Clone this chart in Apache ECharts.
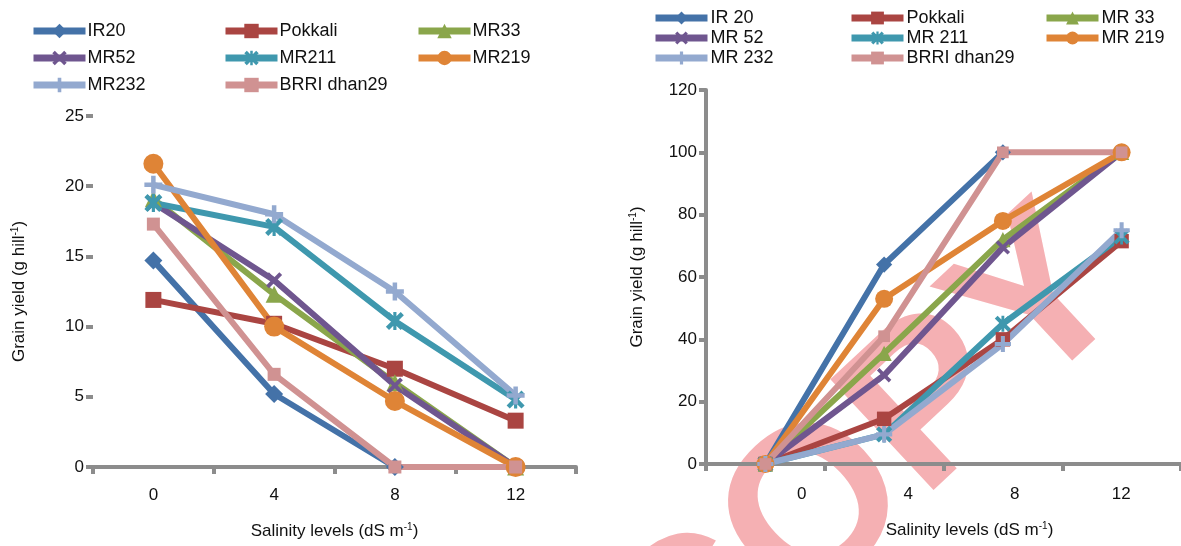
<!DOCTYPE html>
<html>
<head>
    <meta charset="UTF-8">
    <script src="https://cdn.jsdelivr.net/npm/echarts@6/dist/echarts.min.js"></script>
    <style>
        html, body { margin: 0; padding: 0; background: #fff; }
        #main { width: 1181px; height: 546px; }
    </style>
</head>
<body>
<div id="main"></div>
<script>
    // salinity levels (dS m-1)
    var levels = ['0', '4', '8', '12'];
    var labelValues = [0, 4, 8, 12];

    var leftNames = ['IR20', 'Pokkali', 'MR33', 'MR52', 'MR211', 'MR219', 'MR232', 'BRRI dhan29'];
    var rightNames = ['IR 20', 'Pokkali', 'MR 33', 'MR 52', 'MR 211', 'MR 219', 'MR 232', 'BRRI dhan29'];

    // left panel: grain yield (g hill-1)
    var ir20Yield = [14.7, 5.2, 0, null];
    var pokkaliYield = [11.9, 10.2, 7.0, 3.3];
    var mr33Yield = [19.1, 12.3, 6.0, 0];
    var mr52Yield = [18.8, 13.3, 5.8, 0];
    var mr211Yield = [18.8, 17.1, 10.4, 4.8];
    var mr219Yield = [21.6, 10.0, 4.7, 0];
    var mr232Yield = [20.1, 18.0, 12.5, 5.1];
    var brriYield = [17.3, 6.6, 0, 0];

    // right panel
    var ir20Right = [0, 64, 100, null];
    var pokkaliRight = [0, 14.5, 40, 71.5];
    var mr33Right = [0, 35.5, 72, 100];
    var mr52Right = [0, 28.5, 69.5, 100];
    var mr211Right = [0, 9.5, 45, 73];
    var mr219Right = [0, 53, 78, 100];
    var mr232Right = [0, 9.5, 38.5, 75];
    var brriRight = [0, 41, 100, 100];

    var leftData = [ir20Yield, pokkaliYield, mr33Yield, mr52Yield, mr211Yield, mr219Yield, mr232Yield, brriYield];
    var rightData = [ir20Right, pokkaliRight, mr33Right, mr52Right, mr211Right, mr219Right, mr232Right, brriRight];

    var colors = ['#4472a8', '#aa4542', '#8aa64b', '#6f568f', '#3f98ae', '#df8436', '#93a9cf', '#d09292'];

    var plus = 'path://M3,0H5V3H8V5H5V8H3V5H0V3H3Z';
    var cross = 'path://M1.4,0L4,2.6L6.6,0L8,1.4L5.4,4L8,6.6L6.6,8L4,5.4L1.4,8L0,6.6L2.6,4L0,1.4Z';
    var star = 'path://M1.4,0L4,2.6L6.6,0L8,1.4L5.4,4L8,6.6L6.6,8L4,5.4L1.4,8L0,6.6L2.6,4L0,1.4Z M3.3,0H4.7V8H3.3Z';
    var symbols = ['diamond', 'rect', 'triangle', cross, star, 'circle', plus, 'rect'];
    var sizes = [18, 16, 17, 16, 18, 20, 18, 13];

    var font = 'Liberation Sans, Arial, sans-serif';
    var axisGray = '#8c8c8c';

    var chart = echarts.init(document.getElementById('main'));

    var nameStyle = {
        fontFamily: font, fontSize: 17, color: '#111',
        rich: { sup: { fontFamily: font, fontSize: 10, color: '#111', padding: [0, 0, 9, 0] } }
    };

    var axisCommon = {
        axisLine: { onZero: false, lineStyle: { color: axisGray, width: 4 } },
        axisTick: { show: true, length: 7, lineStyle: { color: axisGray, width: 4 } },
        splitLine: { show: false },
        axisLabel: { fontFamily: font, fontSize: 17, color: '#111' }
    };

    var series = [];
    var legends = [];
    var leftCols = [30, 222, 415], leftRows = [22, 49, 76];
    var rightCols = [652, 848, 1043], rightRows = [9, 29, 49];

    for (var i = 0; i < leftNames.length; i++) {
        var common = {
            type: 'line',
            symbol: symbols[i],
            symbolSize: sizes[i],
            clip: false,
            connectNulls: false,
            lineStyle: { color: colors[i], width: 6 },
            itemStyle: { color: colors[i] }
        };
        series.push(Object.assign({}, common, {
            name: leftNames[i], xAxisIndex: 0, yAxisIndex: 0, data: leftData[i]
        }));
        series.push(Object.assign({}, common, {
            name: rightNames[i], xAxisIndex: 1, yAxisIndex: 1, data: rightData[i],
            symbolSize: sizes[i] * 0.9
        }));
        legends.push({
            data: [leftNames[i]],
            left: leftCols[i % 3], top: leftRows[Math.floor(i / 3)],
            itemWidth: 52, itemHeight: 18, padding: 0, itemGap: 0,
            lineStyle: { width: 7 },
            textStyle: { fontFamily: font, fontSize: 18, color: '#111', padding: [0, 0, 0, -3] }
        });
        legends.push({
            data: [rightNames[i]],
            left: rightCols[i % 3], top: rightRows[Math.floor(i / 3)],
            itemWidth: 52, itemHeight: 16, padding: 0, itemGap: 0,
            lineStyle: { width: 7 },
            textStyle: { fontFamily: font, fontSize: 18, color: '#111', padding: [0, 0, 0, -2] }
        });
    }

    chart.setOption({
        animation: false,
        legend: legends,
        grid: [
            { left: 93, top: 116, width: 483, height: 351 },
            { left: 706, top: 90, width: 488, height: 374 }
        ],
        graphic: [{
            type: 'text',
            x: 868, y: 468,
            rotation: 43 * Math.PI / 180,
            z: -10,
            style: {
                text: 'COPY',
                font: 'bold 220px Liberation Sans',
                fill: '#f5b0b3',
                align: 'center',
                verticalAlign: 'middle'
            }
        }],
        xAxis: [
            Object.assign({}, axisCommon, {
                gridIndex: 0, type: 'category', data: levels, boundaryGap: true,
                axisLabel: { fontFamily: font, fontSize: 17, color: '#111', margin: 20 },
                name: 'Salinity levels (dS m{sup|-1})', nameLocation: 'middle', nameGap: 55,
                nameTextStyle: nameStyle
            }),
            Object.assign({}, axisCommon, {
                gridIndex: 1, type: 'category', data: levels, boundaryGap: true,
                axisLabel: { show: false }
            }),
            {
                gridIndex: 1, type: 'value', position: 'bottom', min: -3.6, max: 14.25,
                axisLine: { show: false, onZero: false }, axisTick: { show: false }, splitLine: { show: false },
                axisLabel: { fontFamily: font, fontSize: 17, color: '#111', margin: 22, customValues: labelValues },
                name: 'Salinity levels (dS m{sup|-1})', nameLocation: 'middle', nameGap: 57,
                nameTextStyle: Object.assign({}, nameStyle, { padding: [0, 0, 0, 52] })
            }
        ],
        yAxis: [
            Object.assign({}, axisCommon, {
                gridIndex: 0, type: 'value', min: 0, max: 25, interval: 5,
                axisLabel: { fontFamily: font, fontSize: 17, color: '#111', margin: 9 },
                name: 'Grain yield (g hill{sup|-1})', nameLocation: 'middle', nameGap: 64, nameTextStyle: nameStyle
            }),
            Object.assign({}, axisCommon, {
                gridIndex: 1, type: 'value', min: 0, max: 120, interval: 20,
                axisLabel: { fontFamily: font, fontSize: 17, color: '#111', margin: 9 },
                name: 'Grain yield (g hill{sup|-1})', nameLocation: 'middle', nameGap: 59, nameTextStyle: nameStyle
            })
        ],
        series: series
    });
</script>
</body>
</html>
